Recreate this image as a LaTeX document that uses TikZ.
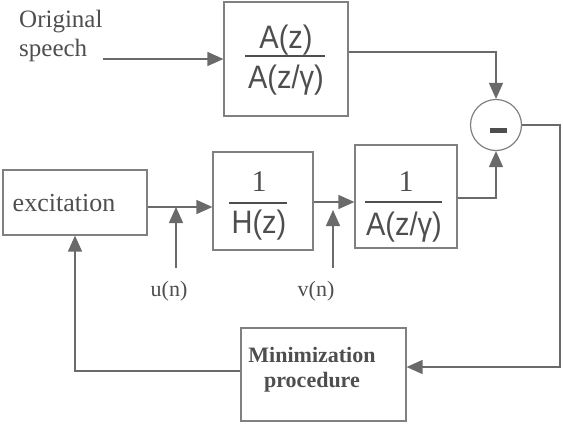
\documentclass[tikz,border=0pt]{standalone}
\usepackage{fontspec}
\setmainfont{Liberation Serif}
\setsansfont{Liberation Sans}
\usetikzlibrary{arrows.meta}
\definecolor{ln}{HTML}{6A6A6A}
\definecolor{bx}{HTML}{808080}
\definecolor{tx}{HTML}{4E4E4E}
\newcommand{\tallbox}[1]{\scalebox{1}[1.12]{#1}}
\begin{document}
\begin{tikzpicture}[x=1pt,y=-1pt,
  blk/.style={draw=bx,line width=1.2pt,inner sep=0pt},
  conn/.style={draw=ln,line width=1.5pt},
  arr/.style={conn,-{Triangle[length=16pt,width=14pt]}},
  fbar/.style={draw=tx,line width=1.4pt},
  lab/.style={text=tx,inner sep=0pt,font=\fontsize{25}{30}\selectfont},
  sml/.style={text=tx,inner sep=0pt,font=\fontsize{22}{26}\selectfont},
  frc/.style={text=tx,inner sep=0pt,font=\sffamily\fontsize{29}{34}\selectfont},
  one/.style={text=tx,inner sep=0pt,font=\rmfamily\fontsize{30}{34}\selectfont}]
\useasboundingbox (0,0) rectangle (563,424);
% blocks
\node[blk,minimum width=124pt,minimum height=114pt] (AZ) at (286,59) {};
\node[blk,minimum width=144pt,minimum height=65pt] (EX) at (75,202.5) {};
\node[blk,minimum width=100pt,minimum height=98pt] (H) at (263,201) {};
\node[blk,minimum width=102pt,minimum height=103pt] (A2) at (406,196.5) {};
\node[blk,minimum width=165pt,minimum height=93pt] (MIN) at (323.5,374.5) {};
\node[draw=bx,line width=1.2pt,circle,minimum size=51pt,inner sep=0pt] (C) at (496,125) {};
\node[fill=tx,minimum width=17pt,minimum height=5pt,inner sep=0pt] (minus) at (498.5,130.5) {};
% texts
\node[lab,anchor=base west] (orig) at (19,27) {Original};
\node[lab,anchor=base west] (spch) at (19,56) {speech};
\node[lab,font=\fontsize{26}{30}\selectfont] (extx) at (64,203) {excitation};
\node[sml] (un) at (169,291) {u(n)};
\node[sml] (vn) at (316,291) {v(n)};
\node[text=tx,inner sep=0pt,align=center,font=\bfseries\fontsize{22}{25}\selectfont] (mintx) at (312,370) {Minimization\\procedure};
% fractions
\node[frc] (n1) at (286,40) {\tallbox{A(z)}};
\draw[fbar] (245,56) -- (325,56);
\node[frc] (d1) at (286,80) {\tallbox{A(z/γ)}};
\node[one] (n2) at (259,182) {1};
\draw[fbar] (229,203) -- (287,203);
\node[frc] (d2) at (259,225) {\tallbox{H(z)}};
\node[one] (n3) at (406,182) {1};
\draw[fbar] (365,202) -- (442,202);
\node[frc] (d3) at (404,227) {\tallbox{A(z/γ)}};
% connectors
\coordinate (sp) at (103,59);
\draw[arr] (sp) -- (sp -| AZ.west);
\draw[arr] ([yshift=7pt]AZ.east) -| (C.north);
\draw[arr] ([yshift=-1.5pt]A2.east) -| (C.south);
\coordinate (R) at (560,367);
\draw[arr] (C.east) -| (R) -- (R -| MIN.east);
\draw[arr] ([yshift=3.5pt]MIN.west) -| (EX.south);
\coordinate (e1) at ([yshift=-4.5pt]EX.east);
\draw[arr] (e1) -- (e1 -| H.west);
\coordinate (ub) at (176,268);
\draw[arr] (ub) -- (ub |- e1);
\coordinate (h1) at ([yshift=-1pt]H.east);
\draw[arr] (h1) -- (h1 -| A2.west);
\coordinate (vb) at (333,268);
\coordinate (vt) at (333,210);
\draw[arr] (vb) -- (vt);
\end{tikzpicture}
\end{document}
